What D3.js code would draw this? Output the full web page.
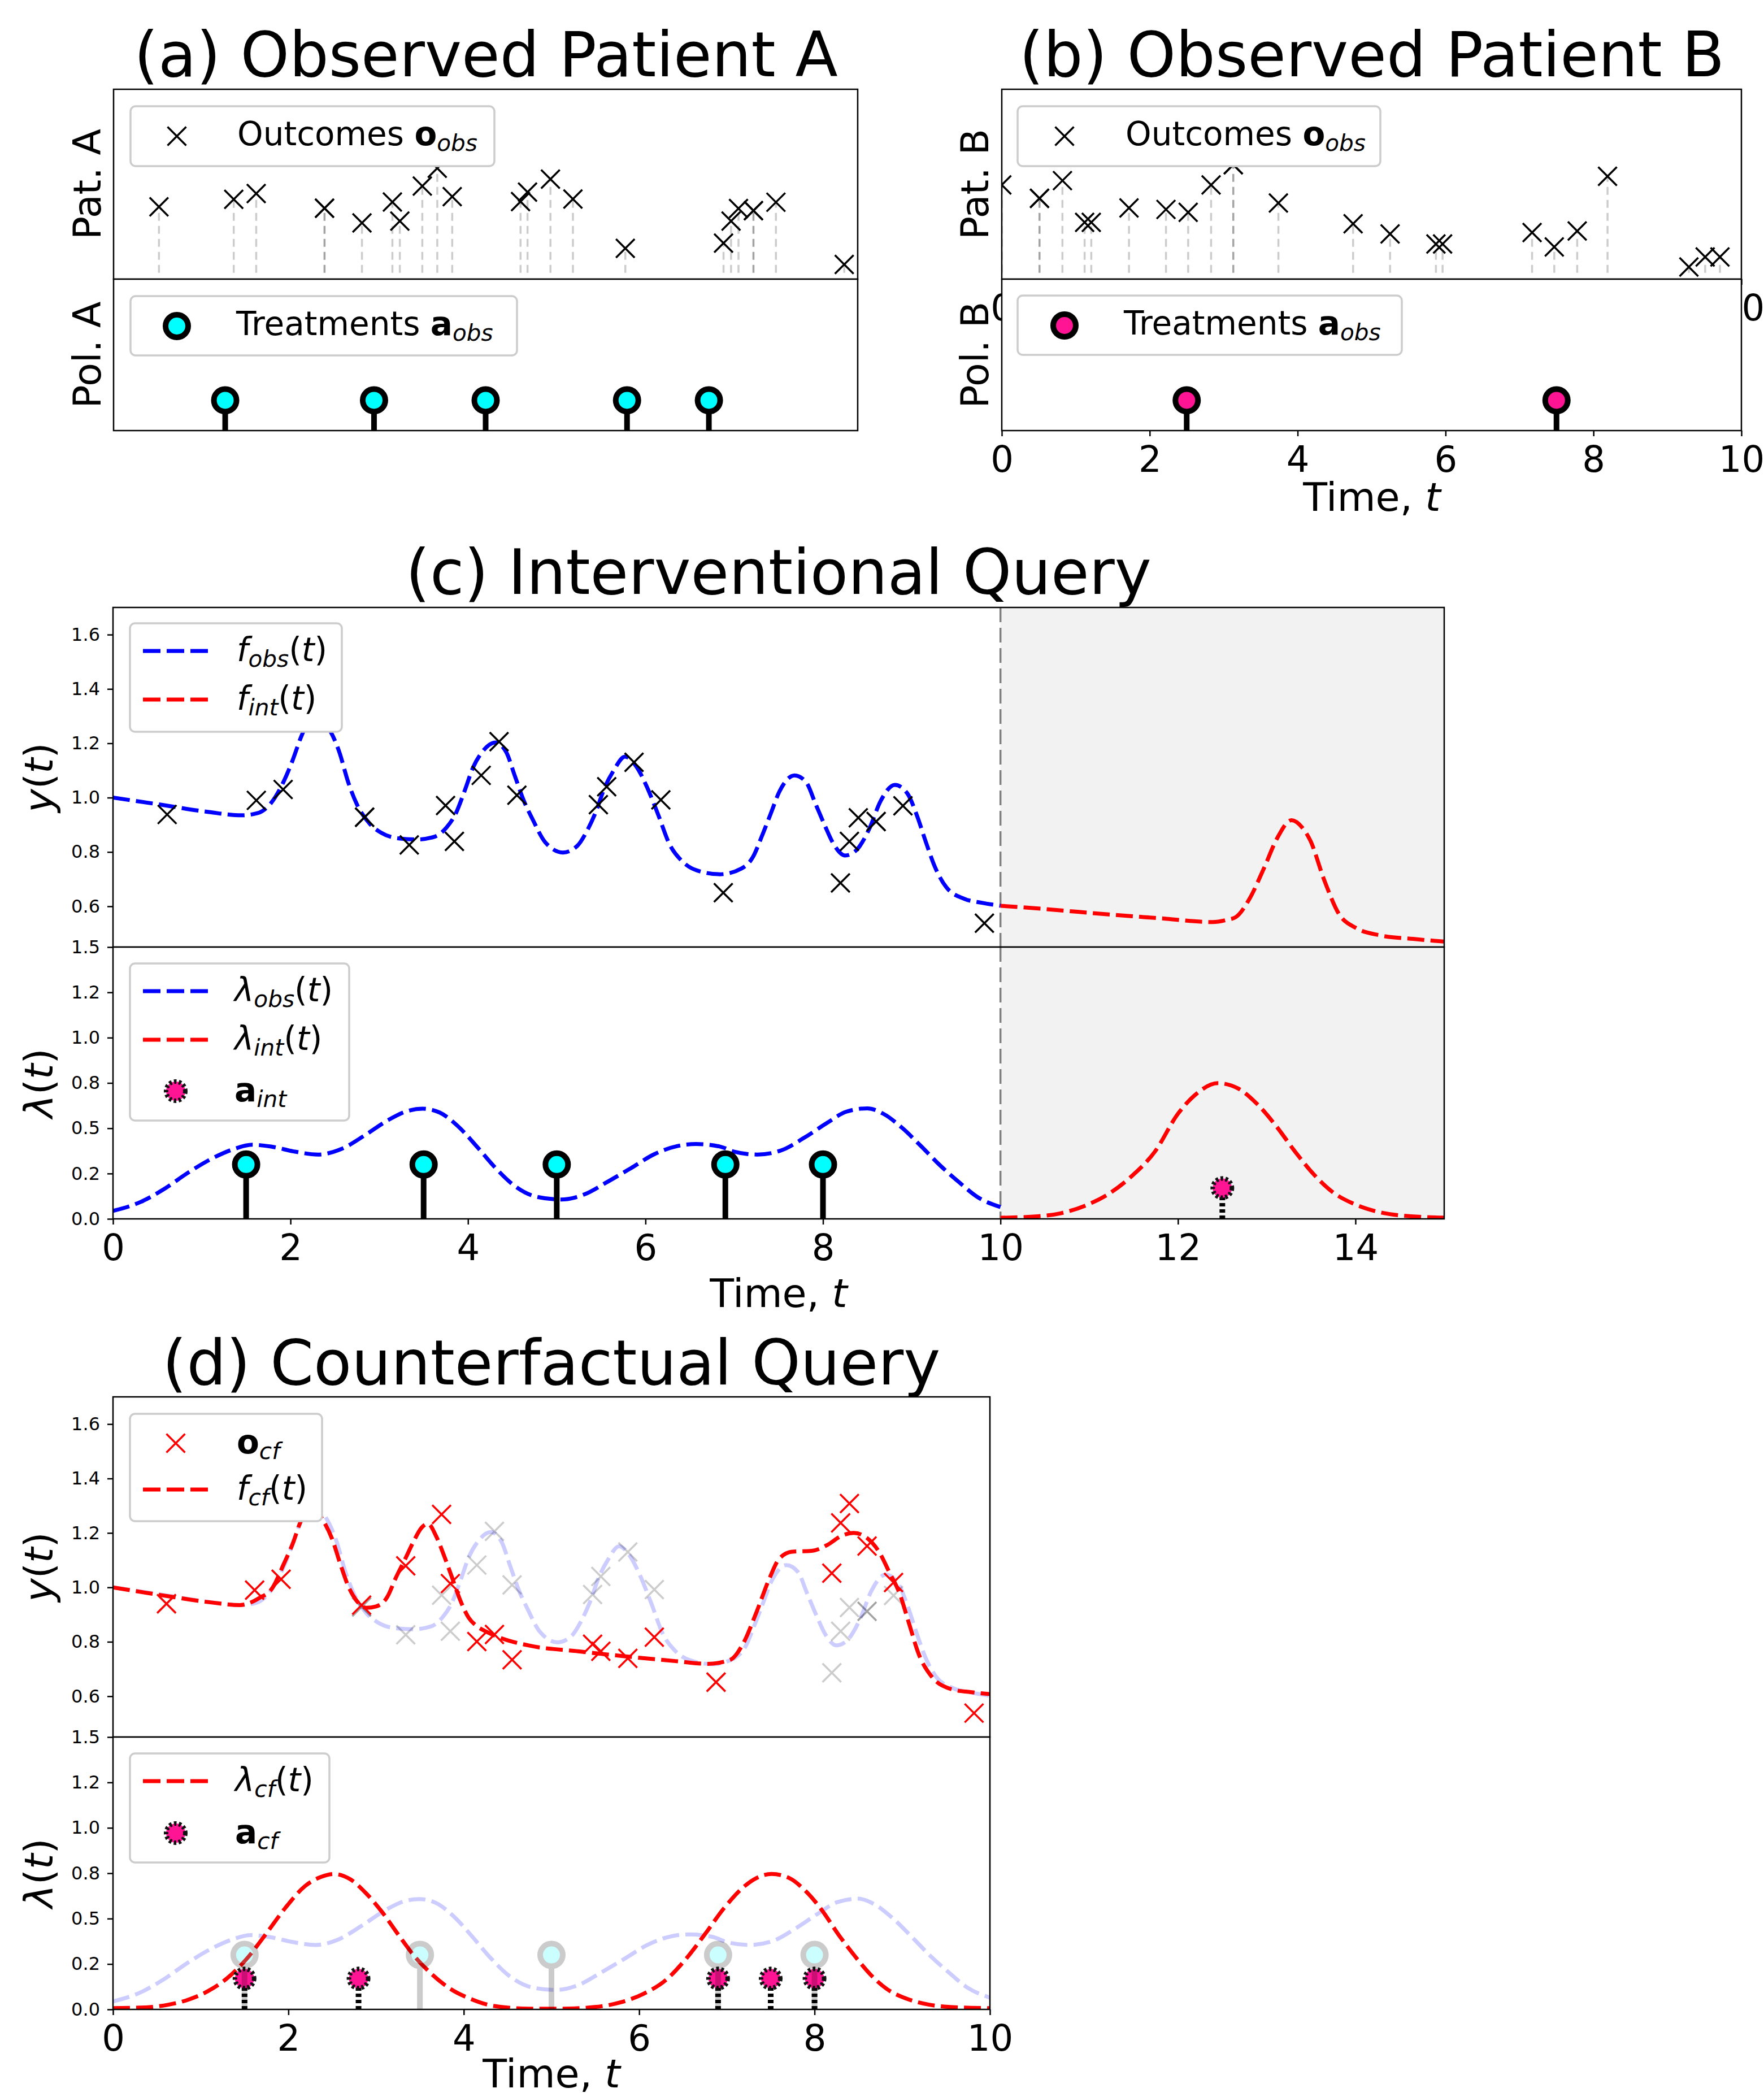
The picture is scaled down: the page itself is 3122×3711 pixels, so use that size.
<!DOCTYPE html>
<html>
<head>
<meta charset="utf-8">
<script src="https://cdn.jsdelivr.net/npm/d3@7"></script>
<style>
body{margin:0;background:#fff;}
svg{display:block;}
text{font-family:"DejaVu Sans",sans-serif;}
</style>
</head>
<body>
<script>
(function(){

//observed outcomes of patient A [time, value] (repeated rows are repeated measurements)
var obsA = [[0.61,0.938],[1.615,0.99],[1.917,1.03],[2.835,0.928],[2.835,0.928],[3.338,0.826],[3.747,0.971],
  [3.847,0.839],[4.149,1.082],[4.35,1.206],[4.551,1.009],[5.469,0.974],[5.563,1.04],[5.871,1.13],[6.173,0.992],
  [6.877,0.65],[8.197,0.686],[8.298,0.839],[8.398,0.926],[8.599,0.912],[8.599,0.912],[8.901,0.97],[9.819,0.538]];
//observed outcomes of patient B
var obsB = [[0.0,1.09],[0.51,0.997],[0.51,0.997],[0.82,1.12],[1.12,0.83],[1.21,0.83],[1.72,0.93],[2.22,0.92],
  [2.52,0.9],[2.83,1.09],[3.13,1.23],[3.13,1.23],[3.74,0.965],[4.75,0.82],[5.25,0.75],[5.87,0.68],[5.96,0.68],
  [7.17,0.76],[7.47,0.66],[7.78,0.77],[8.19,1.15],[9.29,0.52],[9.51,0.59],[9.71,0.59]];
var stemBase = 0.48;

//treatment times
var treatA = [1.5, 3.5, 5.0, 6.9, 8.0];
var treatB = [2.5, 7.5];
var treatInt = [12.5];
var treatCf = [1.5, 2.8, 6.9, 7.5, 8.0];
var treatLevel = 0.3;   //height of observed treatment markers
var actLevel = 0.17;    //height of intervention / counterfactual markers

//outcome curves [time, value]
var fObs = [[0,1.0],[0.54,0.974],[1.08,0.947],[1.45,0.935],[1.63,0.943],[1.78,0.98],[1.92,1.057],[2.02,1.134],
  [2.12,1.224],[2.2,1.28],[2.28,1.3],[2.37,1.28],[2.45,1.244],[2.55,1.168],[2.65,1.057],[2.75,0.974],[2.89,0.905],
  [3.02,0.871],[3.22,0.85],[3.42,0.846],[3.63,0.857],[3.76,0.891],[3.86,0.94],[3.96,1.023],[4.06,1.113],[4.16,1.168],
  [4.31,1.203],[4.43,1.168],[4.53,1.078],[4.63,0.988],[4.73,0.919],[4.87,0.836],[5.07,0.798],[5.23,0.822],[5.34,0.877],
  [5.44,0.947],[5.54,1.037],[5.64,1.099],[5.77,1.151],[5.9,1.113],[6.01,1.044],[6.14,0.94],[6.27,0.829],[6.41,0.767],
  [6.58,0.732],[6.84,0.718],[7.08,0.739],[7.21,0.781],[7.31,0.857],[7.41,0.94],[7.51,1.023],[7.68,1.082],[7.81,1.057],
  [7.92,0.974],[8.02,0.898],[8.12,0.829],[8.25,0.787],[8.38,0.808],[8.52,0.884],[8.65,0.988],[8.81,1.047],[8.95,1.016],
  [9.06,0.933],[9.16,0.836],[9.26,0.746],[9.39,0.67],[9.59,0.628],[9.79,0.613],[10,0.602]];
var fInt = [[10,0.602],[10.5,0.59],[11.22,0.57],[11.8,0.556],[12.39,0.542],[12.55,0.55],[12.65,0.56],[12.81,0.63],
  [12.97,0.741],[13.12,0.852],[13.28,0.917],[13.4,0.89],[13.49,0.843],[13.65,0.695],[13.81,0.574],[14.02,0.518],
  [14.28,0.493],[14.65,0.48],[15,0.47]];
var fCf = [[0,1.0],[0.558,0.971],[1.11,0.945],[1.446,0.935],[1.668,0.961],[1.816,0.997],[1.946,1.085],[2.057,1.167],
  [2.13,1.234],[2.2,1.28],[2.3,1.29],[2.39,1.249],[2.5,1.177],[2.593,1.085],[2.686,1.002],[2.778,0.951],[2.889,0.925],
  [3.0,0.93],[3.13,0.966],[3.222,1.033],[3.333,1.105],[3.425,1.167],[3.518,1.219],[3.592,1.234],[3.685,1.188],
  [3.777,1.115],[3.87,1.033],[3.962,0.951],[4.055,0.889],[4.147,0.858],[4.258,0.837],[4.406,0.816],[4.749,0.786],
  [5.304,0.765],[5.859,0.746],[6.414,0.729],[6.784,0.719],[7.04,0.734],[7.19,0.796],[7.338,0.909],[7.486,1.033],
  [7.597,1.105],[7.745,1.131],[7.967,1.134],[8.152,1.157],[8.3,1.188],[8.448,1.2],[8.596,1.182],[8.744,1.126],
  [8.855,1.054],[8.966,0.981],[9.077,0.868],[9.188,0.755],[9.336,0.672],[9.558,0.626],[9.78,0.615],[10,0.608]];
//counterfactual outcomes
var obsCf = [[0.61,0.94],[1.615,0.99],[1.917,1.03],[2.835,0.935],[3.338,1.079],[3.747,1.268],[3.847,1.014],
  [4.149,0.801],[4.35,0.827],[4.551,0.734],[5.469,0.791],[5.563,0.765],[5.871,0.739],[6.173,0.817],[6.877,0.652],
  [8.197,1.052],[8.298,1.237],[8.398,1.308],[8.599,1.152],[8.901,1.018],[9.819,0.538]];

//intensity curves [time, lambda]
var lamObs = [[0,0.044],[0.31,0.093],[0.57,0.163],[0.84,0.253],[1.1,0.329],[1.36,0.385],[1.57,0.409],[1.78,0.399],
  [2.05,0.371],[2.31,0.355],[2.57,0.385],[2.84,0.462],[3.1,0.545],[3.31,0.594],[3.49,0.608],[3.68,0.587],[3.89,0.51],
  [4.1,0.399],[4.31,0.281],[4.52,0.184],[4.78,0.121],[5.05,0.107],[5.31,0.135],[5.57,0.204],[5.84,0.281],[6.1,0.357],
  [6.36,0.402],[6.57,0.413],[6.84,0.399],[7.0,0.371],[7.26,0.355],[7.53,0.378],[7.79,0.448],[8.05,0.531],[8.26,0.591],
  [8.5,0.61],[8.68,0.58],[8.89,0.503],[9.11,0.399],[9.32,0.295],[9.53,0.204],[9.74,0.121],[10,0.065]];
var lamInt = [[10,0.006],[10.42,0.014],[10.68,0.031],[10.95,0.072],[11.21,0.135],[11.47,0.232],[11.74,0.371],
  [12.0,0.58],[12.21,0.691],[12.45,0.749],[12.68,0.719],[12.89,0.635],[13.11,0.51],[13.32,0.371],[13.53,0.246],
  [13.74,0.149],[14.0,0.079],[14.26,0.038],[14.63,0.014],[15,0.007]];
var lamCf = [[0,0.007],[0.374,0.011],[0.633,0.026],[0.855,0.053],[1.077,0.099],[1.3,0.171],[1.52,0.276],[1.742,0.414],
  [1.965,0.559],[2.187,0.678],[2.372,0.73],[2.519,0.746],[2.704,0.717],[2.889,0.638],[3.074,0.533],[3.259,0.408],
  [3.444,0.289],[3.629,0.197],[3.851,0.112],[4.073,0.059],[4.332,0.02],[4.75,0.004],[5.12,0.004],[5.49,0.013],
  [5.79,0.039],[6.05,0.086],[6.31,0.164],[6.53,0.276],[6.75,0.414],[6.97,0.559],[7.2,0.678],[7.34,0.724],[7.51,0.746],
  [7.71,0.724],[7.9,0.651],[8.085,0.546],[8.27,0.414],[8.456,0.296],[8.64,0.191],[8.826,0.112],[9.05,0.059],
  [9.307,0.026],[9.64,0.011],[10,0.007]];

//ticks
var timeTicks10 = [0, 2, 4, 6, 8, 10];
var timeTicks15 = [0, 2, 4, 6, 8, 10, 12, 14];
var edgeTicks = [0, 10]; //upper-axes labels of (b) that peek out past the lower axes
var yTicks = [0.6, 0.8, 1.0, 1.2, 1.4, 1.6];
var lamTicks = [0, 0.25, 0.5, 0.75, 1.0, 1.25, 1.5];
var lamTickLabels = ["0.0", "0.2", "0.5", "0.8", "1.0", "1.2", "1.5"];
var horizon = 10; //end of observed window

var blue = "#0000ff", red = "#ff0000", cyan = "#00ffff", pink = "#ff1493";

var svg = d3.select("body").append("svg").attr("width", 3122).attr("height", 3711);
svg.append("rect").attr("width", 3122).attr("height", 3711).attr("fill", "#fff");

//---------- helpers ----------
var clipN = 0;
function axesBox(x0, x1, y0, y1){
  var id = "clip" + (clipN++);
  svg.append("clipPath").attr("id", id).append("rect")
    .attr("x", x0).attr("y", y0).attr("width", x1 - x0).attr("height", y1 - y0);
  var g = svg.append("g");
  g.append("rect").attr("x", x0).attr("y", y0).attr("width", x1 - x0).attr("height", y1 - y0).attr("fill", "#fff");
  var plot = g.append("g").attr("clip-path", "url(#" + id + ")");
  return {g: g, plot: plot, box: [x0, x1, y0, y1]};
}
function spine(ax){
  var b = ax.box;
  ax.g.append("rect").attr("x", b[0]).attr("y", b[2]).attr("width", b[1] - b[0]).attr("height", b[3] - b[2])
    .attr("fill", "none").attr("stroke", "#000").attr("stroke-width", 2.5);
}
function rich(g, x, y, segs, size, anchor){
  var t = g.append("text").attr("x", x).attr("y", y).attr("font-size", size)
    .attr("text-anchor", anchor || "start").attr("fill", "#000");
  var shift = 0;
  segs.forEach(function(s){
    var ts = t.append("tspan").text(s.t);
    var want = s.sub ? size * 0.17 : 0;
    if (want !== shift){ ts.attr("dy", want - shift); shift = want; }
    if (s.sub) ts.attr("font-size", size * 0.7);
    if (s.b) ts.attr("font-weight", "bold");
    if (s.i) ts.attr("font-style", "italic");
  });
  return t;
}
function vLabel(g, x, y, segs, size){
  var gg = g.append("g").attr("transform", "translate(" + x + "," + y + ") rotate(-90)");
  rich(gg, 0, 0, segs, size, "middle");
}
function crossPath(cx, cy, s){
  return "M" + (cx - s) + "," + (cy - s) + "L" + (cx + s) + "," + (cy + s) +
         "M" + (cx - s) + "," + (cy + s) + "L" + (cx + s) + "," + (cy - s);
}
function crosses(g, data, x, y, color, op){
  g.selectAll(null).data(data).enter().append("path")
    .attr("d", function(d){ return crossPath(x(d[0]), y(d[1]), 16.5); })
    .attr("fill", "none").attr("stroke", color).attr("stroke-width", 3.5)
    .attr("stroke-opacity", op == null ? 1 : op);
}
function stems(g, data, x, y){
  g.selectAll(null).data(data).enter().append("line")
    .attr("x1", function(d){ return x(d[0]); }).attr("x2", function(d){ return x(d[0]); })
    .attr("y1", y(stemBase)).attr("y2", function(d){ return y(d[1]); })
    .attr("stroke", "#000").attr("stroke-opacity", 0.2).attr("stroke-width", 3.5)
    .attr("stroke-dasharray", "14 9");
}
function curve(g, data, x, y, color, op){
  var line = d3.line().x(function(d){ return x(d[0]); }).y(function(d){ return y(d[1]); })
    .curve(d3.curveMonotoneX);
  g.append("path").datum(data).attr("d", line).attr("fill", "none")
    .attr("stroke", color).attr("stroke-width", 7).attr("stroke-dasharray", "30 11")
    .attr("stroke-opacity", op == null ? 1 : op);
}
function treatMarker(g, cx, cy, fill){
  g.append("circle").attr("cx", cx).attr("cy", cy).attr("r", 20)
    .attr("fill", fill).attr("stroke", "#000").attr("stroke-width", 10);
}
function actMarker(g, cx, cy){
  g.append("circle").attr("cx", cx).attr("cy", cy).attr("r", 17)
    .attr("fill", pink).attr("stroke", "#111").attr("stroke-width", 8).attr("stroke-dasharray", "4.5 4");
}
function treatments(g, times, x, y, fill){
  times.forEach(function(t){
    g.append("line").attr("x1", x(t)).attr("x2", x(t)).attr("y1", y(0)).attr("y2", y(treatLevel))
      .attr("stroke", "#000").attr("stroke-width", 10);
    treatMarker(g, x(t), y(treatLevel), fill);
  });
}
function actions(g, times, x, y){
  times.forEach(function(t){
    g.append("line").attr("x1", x(t)).attr("x2", x(t)).attr("y1", y(0)).attr("y2", y(actLevel))
      .attr("stroke", "#000").attr("stroke-width", 10).attr("stroke-dasharray", "6 5");
    actMarker(g, x(t), y(actLevel));
  });
}
function legendBox(g, x, y, w, h){
  g.append("rect").attr("x", x).attr("y", y).attr("width", w).attr("height", h).attr("rx", 9)
    .attr("fill", "#fff").attr("stroke", "#cccccc").attr("stroke-width", 3.5);
}
function legendLine(g, x0, x1, y, color){
  g.append("line").attr("x1", x0).attr("x2", x1).attr("y1", y).attr("y2", y)
    .attr("stroke", color).attr("stroke-width", 7).attr("stroke-dasharray", "31 11");
}
function legendCross(g, cx, cy, color){
  g.append("path").attr("d", crossPath(cx, cy, 16.5)).attr("stroke", color)
    .attr("stroke-width", 3.5).attr("fill", "none");
}
function xAxis(g, x, yPix, ticks){
  var ax = g.append("g").attr("transform", "translate(0," + yPix + ")")
    .call(d3.axisBottom(x).tickValues(ticks).tickFormat(d3.format("d")).tickSize(10).tickPadding(18));
  ax.attr("font-size", 64).attr("font-family", "DejaVu Sans");
  ax.select(".domain").remove();
  ax.selectAll("line").attr("stroke", "#000").attr("stroke-width", 2.5);
  ax.selectAll("text").attr("fill", "#000");
  return ax;
}
function yAxis(g, y, xPix, ticks, labels){
  var ax = g.append("g").attr("transform", "translate(" + xPix + ",0)")
    .call(d3.axisLeft(y).tickValues(ticks).tickSize(10).tickPadding(13)
      .tickFormat(function(d, i){ return labels ? labels[i] : d3.format(".1f")(d); }));
  ax.attr("font-size", 32).attr("font-family", "DejaVu Sans");
  ax.select(".domain").remove();
  ax.selectAll("line").attr("stroke", "#000").attr("stroke-width", 2.5);
  ax.selectAll("text").attr("fill", "#000");
}
function title(txt, cx, by){
  svg.append("text").attr("x", cx).attr("y", by).attr("text-anchor", "middle")
    .attr("font-size", 110).attr("fill", "#000").text(txt);
}
var timeLabel = [{t: "Time, "}, {t: "t", i: 1}];
var yLab = [{t: "y", i: 1}, {t: "("}, {t: "t", i: 1}, {t: ")"}];
var lamLab = [{t: "\u03bb", i: 1}, {t: "("}, {t: "t", i: 1}, {t: ")"}];

//---------- (a) observed patient A ----------
function setPanelA(){
  var x = d3.scaleLinear().domain([0, 10]).range([201, 1518]);
  var yO = d3.scaleLinear().domain([0.436, 1.754]).range([494, 158]);
  var yT = d3.scaleLinear().domain([0, 1.5]).range([762, 494]);

  title("(a) Observed Patient A", 860, 135);

  var top = axesBox(201, 1518, 158, 494);
  stems(top.plot, obsA, x, yO);
  crosses(top.plot, obsA, x, yO, "#000");
  legendBox(top.g, 231, 188, 644, 106);
  legendCross(top.g, 313, 241, "#000");
  rich(top.g, 420, 257, [{t: "Outcomes "}, {t: "o", b: 1}, {t: "obs", i: 1, sub: 1}], 58);
  spine(top);

  var bot = axesBox(201, 1518, 494, 762);
  treatments(bot.plot, treatA, x, yT, cyan);
  legendBox(bot.g, 231, 524, 684, 105);
  treatMarker(bot.g, 313, 577, cyan);
  rich(bot.g, 418, 593, [{t: "Treatments "}, {t: "a", b: 1}, {t: "obs", i: 1, sub: 1}], 58);
  spine(bot);

  vLabel(svg, 178, 326, [{t: "Pat. A"}], 68);
  vLabel(svg, 178, 628, [{t: "Pol. A"}], 68);
}

//---------- (b) observed patient B ----------
function setPanelB(){
  var x = d3.scaleLinear().domain([0, 10]).range([1773, 3082]);
  var yO = d3.scaleLinear().domain([0.436, 1.754]).range([494, 158]);
  var yT = d3.scaleLinear().domain([0, 1.5]).range([762, 494]);

  title("(b) Observed Patient B", 2428, 135);

  var top = axesBox(1773, 3082, 158, 494);
  stems(top.plot, obsB, x, yO);
  crosses(top.plot, obsB, x, yO, "#000");
  legendBox(top.g, 1801, 188, 642, 106);
  legendCross(top.g, 1884, 241, "#000");
  rich(top.g, 1992, 257, [{t: "Outcomes "}, {t: "o", b: 1}, {t: "obs", i: 1, sub: 1}], 58);
  spine(top);
  //tick labels of the upper axes, mostly hidden by the lower axes
  xAxis(svg, x, 494, edgeTicks);

  var bot = axesBox(1773, 3082, 494, 762);
  treatments(bot.plot, treatB, x, yT, pink);
  legendBox(bot.g, 1801, 523, 680, 105);
  treatMarker(bot.g, 1884, 576, pink);
  rich(bot.g, 1989, 592, [{t: "Treatments "}, {t: "a", b: 1}, {t: "obs", i: 1, sub: 1}], 58);
  spine(bot);
  xAxis(svg, x, 762, timeTicks10);
  rich(svg, 2428, 904, timeLabel, 70, "middle");

  vLabel(svg, 1749, 326, [{t: "Pat. B"}], 68);
  vLabel(svg, 1749, 628, [{t: "Pol. B"}], 68);
}

//---------- (c) interventional query ----------
function setPanelC(){
  var x = d3.scaleLinear().domain([0, 15]).range([200, 2556]);
  var yF = d3.scaleLinear().domain([0.45, 1.7]).range([1676, 1075]);
  var yL = d3.scaleLinear().domain([0, 1.5]).range([2157, 1676]);

  title("(c) Interventional Query", 1378, 1051);

  var top = axesBox(200, 2556, 1075, 1676);
  top.plot.append("rect").attr("x", x(horizon)).attr("y", 1075).attr("width", x(15) - x(horizon))
    .attr("height", 601).attr("fill", "#f2f2f2");
  top.plot.append("line").attr("x1", x(horizon)).attr("x2", x(horizon)).attr("y1", 1075).attr("y2", 1676)
    .attr("stroke", "#808080").attr("stroke-width", 3.5).attr("stroke-dasharray", "26 10");
  curve(top.plot, fObs, x, yF, blue);
  curve(top.plot, fInt, x, yF, red);
  crosses(top.plot, obsA, x, yF, "#000");
  legendBox(top.g, 230, 1103, 375, 192);
  legendLine(top.g, 253, 369, 1152, blue);
  rich(top.g, 419, 1170, [{t: "f", i: 1}, {t: "obs", i: 1, sub: 1}, {t: "("}, {t: "t", i: 1}, {t: ")"}], 58);
  legendLine(top.g, 253, 369, 1238, red);
  rich(top.g, 419, 1256, [{t: "f", i: 1}, {t: "int", i: 1, sub: 1}, {t: "("}, {t: "t", i: 1}, {t: ")"}], 58);
  spine(top);
  yAxis(svg, yF, 200, yTicks);

  var bot = axesBox(200, 2556, 1676, 2157);
  bot.plot.append("rect").attr("x", x(horizon)).attr("y", 1676).attr("width", x(15) - x(horizon))
    .attr("height", 481).attr("fill", "#f2f2f2");
  bot.plot.append("line").attr("x1", x(horizon)).attr("x2", x(horizon)).attr("y1", 1676).attr("y2", 2157)
    .attr("stroke", "#808080").attr("stroke-width", 3.5).attr("stroke-dasharray", "26 10");
  curve(bot.plot, lamObs, x, yL, blue);
  curve(bot.plot, lamInt, x, yL, red);
  treatments(bot.plot, treatA, x, yL, cyan);
  actions(bot.plot, treatInt, x, yL);
  legendBox(bot.g, 230, 1705, 388, 278);
  legendLine(bot.g, 253, 369, 1754, blue);
  rich(bot.g, 415, 1772, [{t: "\u03bb", i: 1}, {t: "obs", i: 1, sub: 1}, {t: "("}, {t: "t", i: 1}, {t: ")"}], 58);
  legendLine(bot.g, 253, 369, 1840, red);
  rich(bot.g, 415, 1858, [{t: "\u03bb", i: 1}, {t: "int", i: 1, sub: 1}, {t: "("}, {t: "t", i: 1}, {t: ")"}], 58);
  actMarker(bot.g, 311, 1931);
  rich(bot.g, 415, 1949, [{t: "a", b: 1}, {t: "int", i: 1, sub: 1}], 58);
  spine(bot);
  yAxis(svg, yL, 200, lamTicks, lamTickLabels);
  xAxis(svg, x, 2157, timeTicks15);
  rich(svg, 1378, 2313, timeLabel, 70, "middle");

  vLabel(svg, 93, 1376, yLab, 70);
  vLabel(svg, 93, 1917, lamLab, 70);
}

//---------- (d) counterfactual query ----------
function setPanelD(){
  var x = d3.scaleLinear().domain([0, 10]).range([200, 1752]);
  var yF = d3.scaleLinear().domain([0.45, 1.7]).range([3074, 2472]);
  var yL = d3.scaleLinear().domain([0, 1.5]).range([3556, 3074]);

  title("(d) Counterfactual Query", 976, 2450);

  var top = axesBox(200, 1752, 2472, 3074);
  curve(top.plot, fObs, x, yF, blue, 0.2);
  crosses(top.plot, obsA, x, yF, "#000", 0.2);
  curve(top.plot, fCf, x, yF, red);
  crosses(top.plot, obsCf, x, yF, red);
  legendBox(top.g, 230, 2502, 340, 190);
  legendCross(top.g, 311, 2554, red);
  rich(top.g, 419, 2572, [{t: "o", b: 1}, {t: "cf", i: 1, sub: 1}], 58);
  legendLine(top.g, 253, 369, 2636, red);
  rich(top.g, 419, 2654, [{t: "f", i: 1}, {t: "cf", i: 1, sub: 1}, {t: "("}, {t: "t", i: 1}, {t: ")"}], 58);
  spine(top);
  yAxis(svg, yF, 200, yTicks);

  var bot = axesBox(200, 1752, 3074, 3556);
  curve(bot.plot, lamObs, x, yL, blue, 0.2);
  curve(bot.plot, lamCf, x, yL, red);
  actions(bot.plot, treatCf, x, yL);
  treatments(bot.plot.append("g").attr("opacity", 0.2), treatA, x, yL, cyan);
  legendBox(bot.g, 230, 3103, 353, 193);
  legendLine(bot.g, 253, 369, 3152, red);
  rich(bot.g, 416, 3170, [{t: "\u03bb", i: 1}, {t: "cf", i: 1, sub: 1}, {t: "("}, {t: "t", i: 1}, {t: ")"}], 58);
  actMarker(bot.g, 311, 3244);
  rich(bot.g, 416, 3262, [{t: "a", b: 1}, {t: "cf", i: 1, sub: 1}], 58);
  spine(bot);
  yAxis(svg, yL, 200, lamTicks, lamTickLabels);
  xAxis(svg, x, 3556, timeTicks10);
  rich(svg, 976, 3694, timeLabel, 70, "middle");

  vLabel(svg, 93, 2773, yLab, 70);
  vLabel(svg, 93, 3315, lamLab, 70);
}

setPanelA();
setPanelB();
setPanelC();
setPanelD();

})();
</script>
</body>
</html>
